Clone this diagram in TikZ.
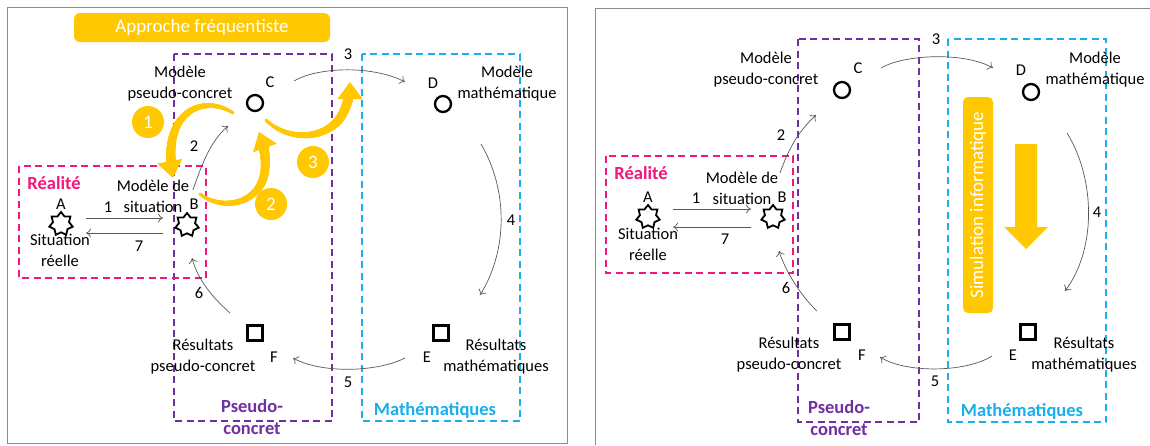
\documentclass[tikz,border=0pt]{standalone}
\usepackage{fontspec}
\setmainfont{Carlito}
\usetikzlibrary{shapes.geometric,arrows.meta,decorations.markings}
\definecolor{myyellow}{HTML}{FFC800}
\definecolor{mypink}{HTML}{F0167A}
\definecolor{mypurple}{HTML}{7030A0}
\definecolor{myblue}{HTML}{1AAEEA}
\tikzset{
  txt/.style={font=\fontsize{16.5}{21}\selectfont, align=center, inner sep=0pt},
  boldtxt/.style={font=\fontsize{18.5}{22}\selectfont\bfseries, align=center, inner sep=0pt},
  dashbox/.style={line width=2pt, dash pattern=on 7pt off 4.5pt},
  starnode/.style={star, star points=7, star point ratio=1.45, minimum size=24pt, draw, line width=1.8pt, inner sep=0pt, fill=white},
  circnode/.style={circle, draw, line width=2.3pt, minimum size=16pt, inner sep=0pt},
  sqnode/.style={rectangle, draw, line width=2.3pt, minimum size=15pt, inner sep=0pt},
  garrow/.style={draw=black!65, line width=0.7pt, -{To[length=5pt,width=9pt]}},
  ytaper/.style={decorate, decoration={markings, mark=between positions 0 and 0.88 step 0.4pt with {\pgfmathsetmacro\yrad{1.6+3.8*\pgfkeysvalueof{/pgf/decoration/mark info/distance from start}/\pgfdecoratedpathlength}\fill[myyellow] (0,0) circle (\yrad pt);}}},
  yhead/.style={draw=myyellow, line width=1pt, -{Triangle[length=17pt,width=25pt]}},
  ynum/.style={circle, fill=myyellow, minimum size=32pt, inner sep=0pt, text=white, font=\fontsize{19}{20}\selectfont},
  frameline/.style={draw=black!45, line width=1pt}
}
\newcommand\yellowarr[1]{\path[ytaper] #1; \draw[yhead] #1;}
\begin{document}
\begin{tikzpicture}[x=1pt,y=-1pt]
\useasboundingbox (0,0) rectangle (1150,445);
\fill[white] (0,0) rectangle (1150,445);

% ================= LEFT PANEL =================
\draw[frameline] (7,7) rectangle (567,443);
\node[rounded corners=6pt, fill=myyellow, minimum width=256pt, minimum height=29pt, text=white, font=\fontsize{19}{20}\selectfont, inner sep=0pt] (title) at (202,27.5) {Approche fréquentiste};

\draw[dashbox, draw=mypurple] (174,54) rectangle (332,421);
\draw[dashbox, draw=myblue] (362,54) rectangle (520,421);
\draw[dashbox, draw=mypink] (19,166) rectangle (206,278);

% yellow curved arrows
\yellowarr{(233,113) .. controls (205,94) and (160,110) .. (173,178)}
\yellowarr{(200,194) .. controls (228,216) and (284,200) .. (259,132)}
\yellowarr{(266,120) .. controls (292,146) and (350,142) .. (350,82)}
\node[ynum] (n1L) at (148,122) {1};
\node[ynum] (n2L) at (271,204) {2};
\node[ynum] (n3L) at (313,162) {3};

\node[txt] (t3L) at (348,54) {3};
\node[txt] (mpcL) at (180,84) {Modèle\\pseudo-concret};
\node[txt] (cL) at (270,82) {C};
\node[circnode] (CL) at (255,103) {};
\node[txt] (dL) at (433,83) {D};
\node[circnode] (DL) at (443,104) {};
\node[txt] (mmL) at (507,84) {Modèle\\mathématique};
\node[txt] (t2L) at (194,146) {2};
\node[boldtxt, text=mypink] (realL) at (54,183) {Réalité};
\node[txt] (msL) at (153,196) {Modèle de\\situation};
\node[txt] (bL) at (194,204) {B};
\node[txt] (aL) at (61,204) {A};
\node[starnode] (AL) at (61,224) {};
\node[starnode] (BL) at (187,225) {};
\node[txt] (t1L) at (108,207) {1};
\node[txt] (t7L) at (139,246) {7};
\node[txt] (srL) at (60,250) {Situation\\réelle};
\node[txt] (t6L) at (199,293) {6};
\node[txt] (t4L) at (511,220) {4};
\node[sqnode] (FL) at (255,333) {};
\node[sqnode] (EL) at (441,333) {};
\node[txt] (rpcL) at (203,357) {Résultats\\pseudo-concret};
\node[txt] (fL) at (274,357) {F};
\node[txt] (eL) at (427,357) {E};
\node[txt] (rmL) at (496,357) {Résultats\\mathématiques};
\node[txt] (t5L) at (348,382) {5};
\node[boldtxt, text=mypurple] (pcL) at (252,417) {Pseudo-\\concret};
\node[boldtxt, text=myblue] (mathL) at (435,410) {Mathématiques};

% gray connectors
\coordinate (a3sL) at (294,81);  \coordinate (a3eL) at (405,82);
\coordinate (a2sL) at (193,190); \coordinate (a2eL) at (228,126);
\coordinate (a4sL) at (481,144); \coordinate (a4eL) at (480,295);
\coordinate (a5sL) at (405,358); \coordinate (a5eL) at (293,358);
\coordinate (a6sL) at (230,313); \coordinate (a6eL) at (192,258);
\coordinate (a1sL) at (86,218);  \coordinate (a1eL) at (163,218);
\coordinate (a7sL) at (163,233); \coordinate (a7eL) at (86,233);
\draw[garrow] (a3sL) .. controls (320,66) and (375,66) .. (a3eL);
\draw[garrow] (a2sL) .. controls (203,160) and (212,140) .. (a2eL);
\draw[garrow] (a4sL) .. controls (508,190) and (508,250) .. (a4eL);
\draw[garrow] (a5sL) .. controls (375,373) and (320,373) .. (a5eL);
\draw[garrow] (a6sL) .. controls (212,297) and (198,280) .. (a6eL);
\draw[garrow] (a1sL) -- (a1eL);
\draw[garrow] (a7sL) -- (a7eL);

% ================= RIGHT PANEL =================
\draw[frameline] (595,445) -- (595,8) -- (1150,8);
\draw[dashbox, draw=mypurple] (798,39) rectangle (919,422);
\draw[dashbox, draw=myblue] (948,39) rectangle (1106,422);
\draw[dashbox, draw=mypink] (606,156) rectangle (793,273);

\node[rounded corners=5pt, fill=myyellow, minimum width=216pt, minimum height=30pt, inner sep=0pt, rotate=90, text=white, font=\fontsize{19}{20}\selectfont] (sim) at (978,205) {Simulation informatique};
\fill[myyellow] (1015,144) -- (1037,144) -- (1037,227) -- (1048,227) -- (1026,249) -- (1004,227) -- (1015,227) -- cycle;

\node[txt] (t3R) at (936,39) {3};
\node[txt] (mpcR) at (766,70) {Modèle\\pseudo-concret};
\node[txt] (cR) at (858,68) {C};
\node[circnode] (CR) at (842,90) {};
\node[txt] (dR) at (1021,70) {D};
\node[circnode] (DR) at (1031,92) {};
\node[txt] (mmR) at (1095,70) {Modèle\\mathématique};
\node[txt] (t2R) at (781,135) {2};
\node[boldtxt, text=mypink] (realR) at (641,173) {Réalité};
\node[txt] (msR) at (742,188) {Modèle de\\situation};
\node[txt] (bR) at (782,197) {B};
\node[txt] (aR) at (648,197) {A};
\node[starnode] (AR) at (648,217) {};
\node[starnode] (BR) at (773,217) {};
\node[txt] (t1R) at (696,198) {1};
\node[txt] (t7R) at (725,239) {7};
\node[txt] (srR) at (648,244) {Situation\\réelle};
\node[txt] (t6R) at (786,288) {6};
\node[txt] (t4R) at (1097,212) {4};
\node[sqnode] (FR) at (842,332) {};
\node[sqnode] (ER) at (1028,332) {};
\node[txt] (rpcR) at (789,355) {Résultats\\pseudo-concret};
\node[txt] (fR) at (862,355) {F};
\node[txt] (eR) at (1013,355) {E};
\node[txt] (rmR) at (1084,355) {Résultats\\mathématiques};
\node[txt] (t5R) at (935,381) {5};
\node[boldtxt, text=mypurple] (pcR) at (839,418) {Pseudo-\\concret};
\node[boldtxt, text=myblue] (mathR) at (1022,411) {Mathématiques};

\coordinate (a3sR) at (881,68);  \coordinate (a3eR) at (993,68);
\coordinate (a2sR) at (780,173); \coordinate (a2eR) at (816,115);
\coordinate (a4sR) at (1067,133); \coordinate (a4eR) at (1065,291);
\coordinate (a5sR) at (992,356); \coordinate (a5eR) at (880,357);
\coordinate (a6sR) at (817,311); \coordinate (a6eR) at (779,251);
\coordinate (a1sR) at (673,209); \coordinate (a1eR) at (751,209);
\coordinate (a7sR) at (751,227); \coordinate (a7eR) at (673,227);
\draw[garrow] (a3sR) .. controls (905,54) and (965,52) .. (a3eR);
\draw[garrow] (a2sR) .. controls (790,145) and (800,130) .. (a2eR);
\draw[garrow] (a4sR) .. controls (1096,180) and (1096,250) .. (a4eR);
\draw[garrow] (a5sR) .. controls (965,373) and (905,373) .. (a5eR);
\draw[garrow] (a6sR) .. controls (800,295) and (785,270) .. (a6eR);
\draw[garrow] (a1sR) -- (a1eR);
\draw[garrow] (a7sR) -- (a7eR);
\end{tikzpicture}
\end{document}
